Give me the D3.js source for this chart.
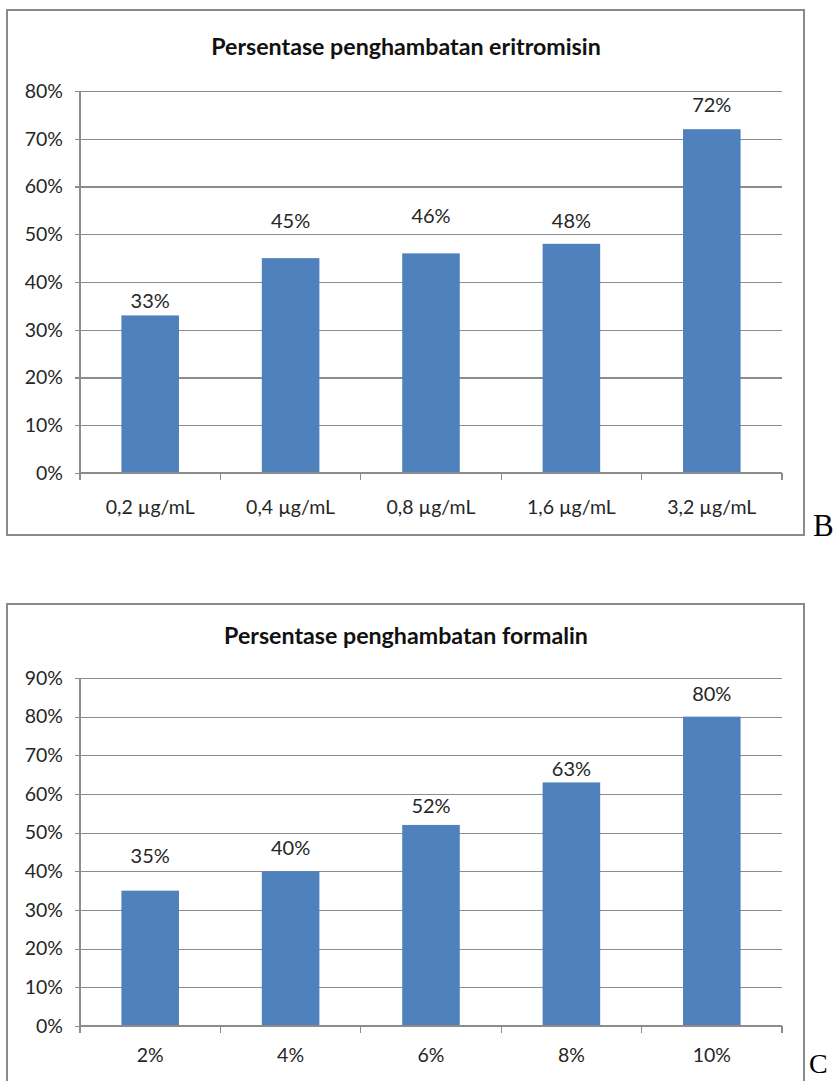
<!DOCTYPE html>
<html>
<head>
<meta charset="utf-8">
<script src="https://cdn.jsdelivr.net/npm/d3@7"></script>
<style>
  html, body { margin: 0; padding: 0; background: #fff; }
  svg { display: block; }
</style>
</head>
<body>
<svg id="page" width="834" height="1081"></svg>
<script>
// Panel B: erythromycin inhibition
const eriCategories = ["0,2 µg/mL", "0,4 µg/mL", "0,8 µg/mL", "1,6 µg/mL", "3,2 µg/mL"];
const eriValues = [0.33, 0.45, 0.46, 0.48, 0.72];
const eriTicks = [0, 0.1, 0.2, 0.3, 0.4, 0.5, 0.6, 0.7, 0.8];

// Panel C: formalin inhibition
const forCategories = ["2%", "4%", "6%", "8%", "10%"];
const forValues = [0.35, 0.40, 0.52, 0.63, 0.80];
const forTicks = [0, 0.1, 0.2, 0.3, 0.4, 0.5, 0.6, 0.7, 0.8, 0.9];

// how far each data label sits above its bar (px), as placed in the workbook
const eriLabelLift = [7, 30, 30, 16, 17];
const forLabelLift = [28, 16, 12, 6, 16];

const FONT = "Lato, 'Open Sans', sans-serif";
const BAR = "#4f81bd";
const GRID = "#8c8c8c";
const INK = "#262626";

const svg = d3.select("#page");

function panel(cfg) {
  const g = svg.append("g");

  // chart frame
  g.append("rect")
    .attr("x", cfg.frame[0]).attr("y", cfg.frame[1])
    .attr("width", cfg.frame[2]).attr("height", cfg.frame[3])
    .attr("fill", "#fff").attr("stroke", "#8a8a8a").attr("stroke-width", 2);

  // title
  g.append("text")
    .attr("x", cfg.titleX).attr("y", cfg.titleY)
    .attr("text-anchor", "middle")
    .attr("font-family", FONT).attr("font-weight", "bold").attr("font-size", 23.2)
    .attr("fill", "#111")
    .text(cfg.title);

  const x = d3.scaleBand()
    .domain(cfg.categories)
    .range([cfg.left, cfg.right])
    .paddingInner(0.59).paddingOuter(0.295);

  const y = d3.scaleLinear()
    .domain(cfg.domain)
    .range([cfg.bottom, cfg.top]);

  // horizontal gridlines + y axis
  const yAxis = d3.axisLeft(y)
    .tickValues(cfg.ticks)
    .tickFormat(d3.format(".0%"))
    .tickSize(-(cfg.right - cfg.left))
    .tickPadding(17);
  const ya = g.append("g")
    .attr("transform", `translate(${cfg.left},0)`)
    .call(yAxis);
  ya.select(".domain").remove();
  ya.selectAll(".tick line")
    .attr("x1", -5)
    .attr("stroke", GRID).attr("stroke-width", 1.2)
    .attr("shape-rendering", "crispEdges");
  ya.selectAll(".tick text")
    .attr("font-family", FONT).attr("font-size", 19.5).attr("fill", INK);

  // vertical axis line
  g.append("line")
    .attr("x1", cfg.left).attr("x2", cfg.left)
    .attr("y1", cfg.top).attr("y2", cfg.bottom)
    .attr("stroke", GRID).attr("stroke-width", 1.2)
    .attr("shape-rendering", "crispEdges");

  // bars
  g.selectAll("rect.bar")
    .data(cfg.values)
    .join("rect")
    .attr("class", "bar")
    .attr("x", (d, i) => x(cfg.categories[i]))
    .attr("width", x.bandwidth())
    .attr("y", d => y(d))
    .attr("height", d => y(0) - y(d))
    .attr("fill", BAR);

  // category axis with ticks on category boundaries
  const xa = g.append("g")
    .attr("transform", `translate(0,${cfg.bottom})`);
  xa.append("line")
    .attr("x1", cfg.left).attr("x2", cfg.right)
    .attr("stroke", GRID).attr("stroke-width", 1.2)
    .attr("shape-rendering", "crispEdges");
  const step = x.step();
  xa.selectAll("line.sep")
    .data(d3.range(cfg.categories.length + 1))
    .join("line")
    .attr("class", "sep")
    .attr("x1", i => cfg.left + i * step).attr("x2", i => cfg.left + i * step)
    .attr("y1", 0).attr("y2", 7)
    .attr("stroke", GRID).attr("stroke-width", 1.2)
    .attr("shape-rendering", "crispEdges");
  xa.selectAll("text")
    .data(cfg.categories)
    .join("text")
    .attr("x", d => x(d) + x.bandwidth() / 2)
    .attr("y", cfg.catLabelDy)
    .attr("text-anchor", "middle")
    .attr("font-family", FONT).attr("font-size", 19.5).attr("fill", INK)
    .text(d => d);

  // data labels
  g.selectAll("text.val")
    .data(cfg.values)
    .join("text")
    .attr("class", "val")
    .attr("x", (d, i) => x(cfg.categories[i]) + x.bandwidth() / 2)
    .attr("y", (d, i) => y(d) - cfg.lift[i])
    .attr("text-anchor", "middle")
    .attr("font-family", FONT).attr("font-size", 20).attr("fill", INK)
    .text(d => d3.format(".0%")(d));

  // panel letter
  svg.append("text")
    .attr("x", cfg.letterX).attr("y", cfg.letterY)
    .attr("font-family", "'Liberation Serif', 'Times New Roman', serif")
    .attr("font-size", cfg.letterSize).attr("fill", "#000")
    .text(cfg.letter);
}

panel({
  frame: [7, 10, 797, 525],
  title: "Persentase penghambatan eritromisin",
  titleX: 406, titleY: 55,
  categories: eriCategories, values: eriValues, ticks: eriTicks,
  domain: [0, 0.8], lift: eriLabelLift,
  left: 80, right: 782, top: 91, bottom: 473,
  catLabelDy: 41,
  letter: "B", letterX: 813, letterY: 536, letterSize: 31
});

panel({
  frame: [7, 604, 797, 490],
  title: "Persentase penghambatan formalin",
  titleX: 406, titleY: 644,
  categories: forCategories, values: forValues, ticks: forTicks,
  domain: [0, 0.9], lift: forLabelLift,
  left: 80, right: 782, top: 678, bottom: 1026,
  catLabelDy: 36,
  letter: "C", letterX: 809, letterY: 1073, letterSize: 28
});
</script>
</body>
</html>
